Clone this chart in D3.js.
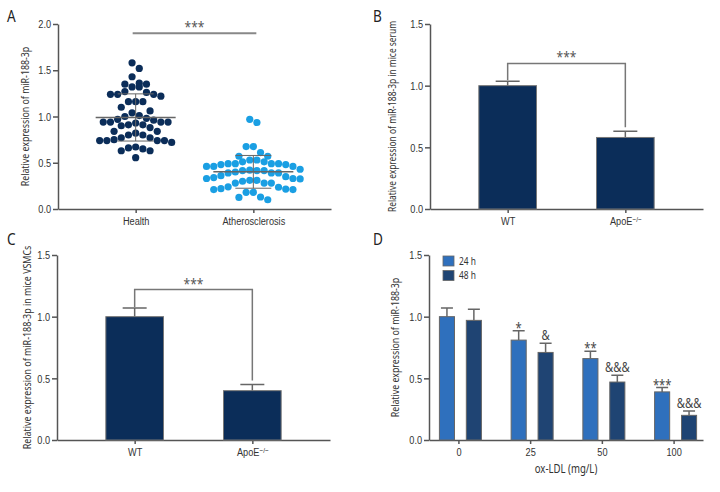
<!DOCTYPE html>
<html>
<head>
<meta charset="utf-8">
<script src="https://cdn.jsdelivr.net/npm/d3@7"></script>
<style>
  body { margin: 0; background: #fff; }
  svg { display: block; font-family: "Noto Sans", "Open Sans", sans-serif; }
  .axis path, .axis line { stroke: #555; stroke-width: 1.5; }
  .axis text { fill: #333; font-size: 11.5px; }
  .cond { transform-box: fill-box; transform: scaleX(0.8); transform-origin: 50% 50%; }
  .cond.s { transform-origin: 0% 50%; }
  .cond.e { transform-origin: 100% 50%; }
</style>
</head>
<body>
<div id="chart"></div>
<script>
// panel A - individual samples
const scatterGroups = ["Health", "Atherosclerosis"];
const healthValues = [1.58, 1.52, 1.43, 1.35, 1.35, 1.36, 1.32, 1.32, 1.24, 1.24, 1.27, 1.24, 1.22, 1.26,
  1.16, 1.16, 1.16, 1.10, 1.06, 1.04, 1.01, 0.98, 1.00, 0.94, 0.94, 0.90, 0.93, 0.94, 0.91, 0.91,
  0.97, 0.94, 0.96, 0.88, 0.84, 0.84, 0.82, 0.80, 0.80, 0.77, 0.75, 0.74, 0.74, 0.74, 0.74, 0.77,
  0.72, 0.66, 0.65, 0.63, 0.63, 0.67, 0.555];
const atheroValues = [0.935, 0.97, 0.675, 0.675, 0.61, 0.57, 0.57, 0.49, 0.48, 0.51, 0.51, 0.53, 0.46,
  0.49, 0.53, 0.46, 0.48, 0.49, 0.46, 0.49, 0.43, 0.39, 0.39, 0.415, 0.36, 0.39, 0.40, 0.415, 0.415,
  0.42, 0.325, 0.31, 0.34, 0.33, 0.35, 0.31, 0.33, 0.28, 0.24, 0.28, 0.30, 0.28, 0.18, 0.18, 0.21,
  0.22, 0.235, 0.215, 0.21, 0.13, 0.125, 0.10];
const sigA = 1.9;

// panels B and C
const mouseGroups = ["WT", "ApoE"];
const serumMeans = [1.0, 0.58];
const serumErrors = [0.035, 0.05];
const serumBracket = 1.18;
const vsmcMeans = [1.0, 0.40];
const vsmcErrors = [0.07, 0.05];
const vsmcBracket = 1.22;

// panel D
const doses = ["0", "25", "50", "100"];
const times = ["24 h", "48 h"];
const mean24 = [1.0, 0.81, 0.66, 0.39];
const err24 = [0.07, 0.075, 0.06, 0.035];
const mean48 = [0.97, 0.71, 0.47, 0.20];
const err48 = [0.09, 0.075, 0.055, 0.035];
const marks24 = ["", "*", "**", "***"];
const marks48 = ["", "&", "&&&", "&&&"];

const yTicksA = [0, 0.5, 1.0, 1.5, 2.0];
const yTicks = [0, 0.5, 1.0, 1.5];

const navy = "#0b2d59", lightBlue = "#1a9fe3";
const col24 = "#2f70bd", col48 = "#1f4473";
const lineCol = "#666";
const SX = 0.8; // horizontal squeeze to imitate the condensed face

const svg = d3.select("#chart").append("svg")
  .attr("width", 720).attr("height", 492);
svg.append("rect").attr("width", 720).attr("height", 492).attr("fill", "#fff");

function letter(txt, x, y) {
  svg.append("text").attr("class", "cond s").attr("x", x).attr("y", y).text(txt)
    .style("font-size", "17px").attr("fill", "#222");
}

function axes(f, y, x, ticks, title, titleX, titleSize) {
  const ya = svg.append("g").attr("class", "axis")
    .attr("transform", `translate(${f.x0},0)`)
    .call(d3.axisLeft(y).tickValues(ticks).tickFormat(d3.format(".1f"))
      .tickSize(5).tickSizeOuter(0).tickPadding(2));
  ya.selectAll("text").attr("class", "cond e");
  const xa = svg.append("g").attr("class", "axis")
    .attr("transform", `translate(0,${f.y1})`)
    .call(d3.axisBottom(x).tickSize(4).tickSizeOuter(0).tickPadding(4));
  xa.selectAll("text").attr("class", "cond");
  svg.append("text")
    .attr("transform", `translate(${titleX},${(f.y0 + f.y1) / 2}) rotate(-90) scale(${SX},1)`)
    .attr("text-anchor", "middle").attr("dy", "0.35em")
    .style("font-size", titleSize + "px").attr("fill", "#333")
    .text(title);
  return xa;
}

function supApo(xa) {
  xa.selectAll(".tick text").filter(d => d === "ApoE")
    .text("ApoE")
    .append("tspan").attr("dy", "-0.45em").style("font-size", "8px").text("\u2212/\u2212");
}

// ---------- A ----------
const fA = { x0: 58, x1: 331, y0: 24, y1: 209 };
const yA = d3.scaleLinear().domain([0, 2]).range([fA.y1, fA.y0]);
const xA = d3.scalePoint().domain(scatterGroups).range([fA.x0, fA.x1]).padding(0.66);
axes(fA, yA, xA, yTicksA, "Relative expression of miR-188-3p", 25, 11);
letter("A", 7, 22);

// Prism-like scatter: points within about one dot height share a row and spread sideways
function rows(values, r) {
  const pts = values.map(v => ({ v, y: yA(v), dx: 0 })).sort((a, b) => a.y - b.y);
  const groups = [];
  pts.forEach(p => {
    const g = groups[groups.length - 1];
    if (g && p.y - g[0].y < 2 * r * 1.35) g.push(p); else groups.push([p]);
  });
  groups.forEach(g => {
    const n = g.length;
    const slots = d3.range(n).map(k => (k - (n - 1) / 2) * 2 * r)
      .sort((a, b) => Math.abs(a) - Math.abs(b) || a - b);
    g.forEach((p, k) => { p.dx = slots[k]; });
  });
  return pts;
}

[[healthValues, navy], [atheroValues, lightBlue]].forEach(([vals, color], i) => {
  const cx = xA(scatterGroups[i]);
  svg.append("g").selectAll("circle")
    .data(rows(vals, 3.6))
    .enter().append("circle")
    .attr("cx", d => cx + d.dx).attr("cy", d => d.y).attr("r", 3.6)
    .attr("fill", color);
  const m = d3.mean(vals), s = d3.deviation(vals);
  const g = svg.append("g").attr("stroke", lineCol).attr("stroke-width", 1.5);
  g.append("line").attr("x1", cx - 40).attr("x2", cx + 40).attr("y1", yA(m)).attr("y2", yA(m));
  g.append("line").attr("x1", cx).attr("x2", cx).attr("y1", yA(m + s)).attr("y2", yA(m - s)).attr("stroke-width", 1);
  [m + s, m - s].forEach(v => {
    g.append("line").attr("x1", cx - 18).attr("x2", cx + 18).attr("y1", yA(v)).attr("y2", yA(v)).attr("stroke-width", 1);
  });
});
svg.append("line")
  .attr("x1", xA(scatterGroups[0]) - 3).attr("x2", xA(scatterGroups[1]) + 3)
  .attr("y1", yA(sigA)).attr("y2", yA(sigA))
  .attr("stroke", "#888").attr("stroke-width", 2);
svg.append("text").attr("class", "cond").attr("x", (xA(scatterGroups[0]) + xA(scatterGroups[1])) / 2)
  .attr("y", yA(sigA) - 1).attr("text-anchor", "middle")
  .style("font-size", "15px").attr("fill", "#555").text("***");

// ---------- B & C ----------
function twoBar(f, means, errs, bracket, title, titleX, titleSize) {
  const y = d3.scaleLinear().domain([0, 1.5]).range([f.y1, f.y0]);
  const x = d3.scalePoint().domain(mouseGroups).range([f.x0, f.x1]).padding(0.66);
  const bw = x.step() * 0.49;
  const xa = axes(f, y, x, yTicks, title, titleX, titleSize);
  supApo(xa);
  const data = mouseGroups.map((k, i) => ({ k, m: means[i], e: errs[i] }));
  const g = svg.append("g");
  // error bars (upper only)
  g.selectAll(".eb").data(data).enter().append("path")
    .attr("d", d => `M${x(d.k)},${y(d.m)}V${y(d.m + d.e)}M${x(d.k) - 12},${y(d.m + d.e)}H${x(d.k) + 12}`)
    .attr("stroke", lineCol).attr("stroke-width", 1.5).attr("fill", "none");
  g.selectAll("rect").data(data).enter().append("rect")
    .attr("x", d => x(d.k) - bw / 2).attr("width", bw)
    .attr("y", d => y(d.m)).attr("height", d => y(0) - y(d.m))
    .attr("fill", navy).attr("stroke", "#777").attr("stroke-width", 1);
  const [a, b] = data;
  svg.append("path")
    .attr("d", `M${x(a.k)},${y(a.m + a.e) - 1}V${y(bracket)}H${x(b.k)}V${y(b.m + b.e) - 4}`)
    .attr("stroke", "#777").attr("stroke-width", 1.5).attr("fill", "none");
  svg.append("text").attr("class", "cond").attr("x", (x(a.k) + x(b.k)) / 2).attr("y", y(bracket) - 1)
    .attr("text-anchor", "middle").style("font-size", "15px").attr("fill", "#555").text("***");
}

twoBar({ x0: 430, x1: 703, y0: 24, y1: 209 }, serumMeans, serumErrors, serumBracket,
  "Relative expression of miR-188-3p in mice serum", 392, 10.5);
letter("B", 373, 22);
twoBar({ x0: 57, x1: 330, y0: 255, y1: 440 }, vsmcMeans, vsmcErrors, vsmcBracket,
  "Relative expression of miR-188-3p in mice VSMCs", 27, 11.1);
letter("C", 7, 245);

// ---------- D ----------
const fD = { x0: 429, x1: 703, y0: 255, y1: 440 };
const yD = d3.scaleLinear().domain([0, 1.5]).range([fD.y1, fD.y0]);
const xD = d3.scalePoint().domain(doses).range([fD.x0, fD.x1]).padding(0.41);
const xT = d3.scaleBand().domain(times).range([-19, 23]).paddingInner(0.44);
axes(fD, yD, xD, yTicks, "Relative expression of miR-188-3p", 395, 11);
letter("D", 373, 245);
svg.append("text").attr("class", "cond").attr("x", (fD.x0 + fD.x1) / 2).attr("y", 473)
  .attr("text-anchor", "middle").style("font-size", "12px").attr("fill", "#333")
  .text("ox-LDL (mg/L)");

const dData = [];
doses.forEach((d, i) => {
  dData.push({ dose: d, t: times[0], m: mean24[i], e: err24[i], mark: marks24[i], c: col24 });
  dData.push({ dose: d, t: times[1], m: mean48[i], e: err48[i], mark: marks48[i], c: col48 });
});
const gD = svg.append("g");
const cxD = d => xD(d.dose) + xT(d.t) + xT.bandwidth() / 2;
gD.selectAll(".eb").data(dData).enter().append("path")
  .attr("d", d => `M${cxD(d)},${yD(d.m)}V${yD(d.m + d.e)}M${cxD(d) - 6},${yD(d.m + d.e)}H${cxD(d) + 6}`)
  .attr("stroke", lineCol).attr("stroke-width", 1.5).attr("fill", "none");
gD.selectAll("rect").data(dData).enter().append("rect")
  .attr("x", d => xD(d.dose) + xT(d.t)).attr("width", xT.bandwidth())
  .attr("y", d => yD(d.m)).attr("height", d => yD(0) - yD(d.m))
  .attr("fill", d => d.c).attr("stroke", "#666").attr("stroke-width", 1);
gD.selectAll(".mark").data(dData.filter(d => d.mark)).enter().append("text")
  .attr("class", "cond")
  .attr("x", cxD).attr("y", d => yD(d.m + d.e) - (d.mark[0] === "*" ? -2 : 3))
  .attr("text-anchor", "middle").style("font-size", "14px").attr("fill", "#444")
  .text(d => d.mark);

// legend
const leg = svg.append("g").attr("transform", "translate(443,256)");
times.forEach((t, i) => {
  leg.append("rect").attr("x", 0).attr("y", i * 14.5).attr("width", 11).attr("height", 10)
    .attr("fill", i ? col48 : col24).attr("stroke", "#666").attr("stroke-width", 0.8);
  leg.append("text").attr("class", "cond s").attr("x", 16).attr("y", i * 14.5 + 9).style("font-size", "10.5px")
    .attr("fill", "#333").text(t);
});
</script>
</body>
</html>
